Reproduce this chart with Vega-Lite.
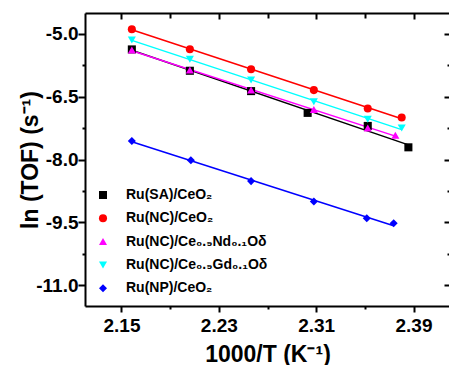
{
  "$schema": "https://vega.github.io/schema/vega-lite/v6.json",
  "width": 365,
  "height": 293,
  "autosize": "none",
  "padding": {"left": 85, "top": 13, "right": 0, "bottom": 59},
  "config": {
    "view": {"stroke": null},
    "font": "Liberation Sans",
    "axis": {
      "grid": false,
      "domainColor": "black",
      "domainWidth": 2,
      "tickColor": "black",
      "tickWidth": 2,
      "labelColor": "black",
      "titleColor": "black",
      "labelFont": "Liberation Sans",
      "titleFont": "Liberation Sans",
      "labelFontSize": 19,
      "labelFontWeight": "bold",
      "titleFontSize": 23,
      "titleFontWeight": "bold",
      "labelOverlap": false,
      "labelFlush": false
    },
    "legend": {
      "orient": "none",
      "legendX": 11,
      "legendY": 175,
      "padding": 0,
      "labelFont": "Liberation Sans",
      "labelFontWeight": "bold",
      "labelFontSize": 14,
      "labelColor": "black",
      "symbolSize": 65,
      "rowPadding": 9.3,
      "labelOffset": 16,
      "labelLimit": 300
    }
  },
  "data": {
    "values": [
      {"series": "Ru(SA)/CeO₂", "x": 2.1585, "y": -5.37},
      {"series": "Ru(SA)/CeO₂", "x": 2.2062, "y": -5.88},
      {"series": "Ru(SA)/CeO₂", "x": 2.2565, "y": -6.366},
      {"series": "Ru(SA)/CeO₂", "x": 2.3030, "y": -6.886},
      {"series": "Ru(SA)/CeO₂", "x": 2.3524, "y": -7.198},
      {"series": "Ru(SA)/CeO₂", "x": 2.3858, "y": -7.709},
      {"series": "Ru(NC)/CeO₂", "x": 2.1585, "y": -4.887},
      {"series": "Ru(NC)/CeO₂", "x": 2.2062, "y": -5.367},
      {"series": "Ru(NC)/CeO₂", "x": 2.2565, "y": -5.846},
      {"series": "Ru(NC)/CeO₂", "x": 2.3081, "y": -6.342},
      {"series": "Ru(NC)/CeO₂", "x": 2.3524, "y": -6.781},
      {"series": "Ru(NC)/CeO₂", "x": 2.3803, "y": -6.997},
      {"series": "Ru(NC)/Ce₀.₉Nd₀.₁Oδ", "x": 2.1585, "y": -5.384},
      {"series": "Ru(NC)/Ce₀.₉Nd₀.₁Oδ", "x": 2.2062, "y": -5.863},
      {"series": "Ru(NC)/Ce₀.₉Nd₀.₁Oδ", "x": 2.2565, "y": -6.342},
      {"series": "Ru(NC)/Ce₀.₉Nd₀.₁Oδ", "x": 2.3081, "y": -6.805},
      {"series": "Ru(NC)/Ce₀.₉Nd₀.₁Oδ", "x": 2.3524, "y": -7.246},
      {"series": "Ru(NC)/Ce₀.₉Nd₀.₁Oδ", "x": 2.3751, "y": -7.421},
      {"series": "Ru(NC)/Ce₀.₉Gd₀.₁Oδ", "x": 2.1585, "y": -5.144},
      {"series": "Ru(NC)/Ce₀.₉Gd₀.₁Oδ", "x": 2.2062, "y": -5.606},
      {"series": "Ru(NC)/Ce₀.₉Gd₀.₁Oδ", "x": 2.2565, "y": -6.103},
      {"series": "Ru(NC)/Ce₀.₉Gd₀.₁Oδ", "x": 2.3081, "y": -6.623},
      {"series": "Ru(NC)/Ce₀.₉Gd₀.₁Oδ", "x": 2.3524, "y": -7.037},
      {"series": "Ru(NC)/Ce₀.₉Gd₀.₁Oδ", "x": 2.3803, "y": -7.246},
      {"series": "Ru(NP)/CeO₂", "x": 2.1585, "y": -7.557},
      {"series": "Ru(NP)/CeO₂", "x": 2.2070, "y": -8.02},
      {"series": "Ru(NP)/CeO₂", "x": 2.2565, "y": -8.516},
      {"series": "Ru(NP)/CeO₂", "x": 2.3081, "y": -9.003},
      {"series": "Ru(NP)/CeO₂", "x": 2.3516, "y": -9.403},
      {"series": "Ru(NP)/CeO₂", "x": 2.3737, "y": -9.523}
    ]
  },
  "resolve": {"axis": {"x": "independent", "y": "independent"}},
  "layer": [
    {
      "transform": [{"regression": "y", "on": "x", "groupby": ["series"]}],
      "mark": {"type": "line", "strokeWidth": 1.5},
      "encoding": {
        "x": {
          "field": "x", "type": "quantitative",
          "scale": {"domain": [2.12, 2.42], "nice": false, "zero": false},
          "axis": {
            "orient": "bottom",
            "values": [2.15, 2.19, 2.23, 2.27, 2.31, 2.35, 2.39],
            "labelExpr": "abs((datum.value-2.15)/0.08 - round((datum.value-2.15)/0.08)) < 0.01 ? format(datum.value, '.2f') : ''",
            "tickSize": {"condition": {"test": "abs((datum.value-2.15)/0.08 - round((datum.value-2.15)/0.08)) < 0.01", "value": 6}, "value": 3},
            "labelBaseline": "alphabetic",
            "labelPadding": 19,
            "title": "1000/T (K⁻¹)",
            "titleBaseline": "alphabetic",
            "titleY": 55,
            "titleX": 182.5,
            "titleAnchor": "middle"
          }
        },
        "y": {
          "field": "y", "type": "quantitative",
          "scale": {"domain": [-11.5, -4.5], "nice": false, "zero": false},
          "axis": {
            "orient": "left",
            "values": [-11, -10.25, -9.5, -8.75, -8, -7.25, -6.5, -5.75, -5],
            "labelExpr": "abs((datum.value+11)/1.5 - round((datum.value+11)/1.5)) < 0.01 ? replace(format(datum.value, '.1f'), '−', '-') : ''",
            "tickSize": {"condition": {"test": "abs((datum.value+11)/1.5 - round((datum.value+11)/1.5)) < 0.01", "value": 7}, "value": 3},
            "labelPadding": 0,
            "title": "ln (TOF) (s⁻¹)",
            "titleAngle": -90,
            "titleBaseline": "alphabetic",
            "titleAlign": "center",
            "titleX": -48,
            "titleY": 146.5
          }
        },
        "stroke": {
          "field": "series", "type": "nominal",
          "scale": {
            "domain": ["Ru(NP)/CeO₂", "Ru(NC)/Ce₀.₉Gd₀.₁Oδ", "Ru(NC)/Ce₀.₉Nd₀.₁Oδ", "Ru(NC)/CeO₂", "Ru(SA)/CeO₂"],
            "range": ["#0000ff", "#00ffff", "#ff00ff", "#ff0000", "#000000"]
          },
          "legend": null
        }
      }
    },
    {
      "mark": {"type": "point", "filled": true, "size": 65, "opacity": 1},
      "encoding": {
        "x": {
          "field": "x", "type": "quantitative",
          "scale": {"domain": [2.12, 2.42], "nice": false, "zero": false},
          "axis": {
            "orient": "top",
            "values": [2.15, 2.19, 2.23, 2.27, 2.31, 2.35, 2.39],
            "labels": false,
            "title": null,
            "tickSize": {"condition": {"test": "abs((datum.value-2.15)/0.08 - round((datum.value-2.15)/0.08)) < 0.01", "value": -6}, "value": -5}
          }
        },
        "y": {
          "field": "y", "type": "quantitative",
          "scale": {"domain": [-11.5, -4.5], "nice": false, "zero": false},
          "axis": {
            "orient": "right",
            "values": [-11, -10.25, -9.5, -8.75, -8, -7.25, -6.5, -5.75, -5],
            "labels": false,
            "title": null,
            "tickSize": {"condition": {"test": "abs((datum.value+11)/1.5 - round((datum.value+11)/1.5)) < 0.01", "value": -6}, "value": -3}
          }
        },
        "color": {
          "field": "series", "type": "nominal",
          "scale": {
            "domain": ["Ru(SA)/CeO₂", "Ru(NC)/CeO₂", "Ru(NC)/Ce₀.₉Nd₀.₁Oδ", "Ru(NC)/Ce₀.₉Gd₀.₁Oδ", "Ru(NP)/CeO₂"],
            "range": ["#000000", "#ff0000", "#ff00ff", "#00ffff", "#0000ff"]
          },
          "legend": {"title": null}
        },
        "shape": {
          "field": "series", "type": "nominal",
          "scale": {
            "domain": ["Ru(SA)/CeO₂", "Ru(NC)/CeO₂", "Ru(NC)/Ce₀.₉Nd₀.₁Oδ", "Ru(NC)/Ce₀.₉Gd₀.₁Oδ", "Ru(NP)/CeO₂"],
            "range": ["square", "circle", "triangle-up", "triangle-down", "diamond"]
          },
          "legend": {"title": null}
        }
      }
    }
  ]
}
